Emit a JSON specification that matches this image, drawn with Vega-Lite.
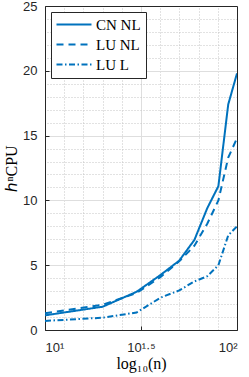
{
  "$schema": "https://vega.github.io/schema/vega-lite/v6.json",
  "autosize": "none",
  "padding": {"left": 45, "top": 6, "right": 12, "bottom": 47},
  "width": 192,
  "height": 324,
  "background": "white",
  "config": {
    "view": {"stroke": null},
    "font": "Liberation Sans",
    "axis": {
      "labelFont": "Liberation Sans",
      "labelFontSize": 13,
      "labelColor": "#262626",
      "domainColor": "#262626",
      "tickColor": "#262626",
      "titleFont": "Liberation Serif",
      "titleFontSize": 16,
      "titleFontWeight": "normal",
      "titleColor": "#000000"
    }
  },
  "data": {
    "values": [
      {"n": 10, "series": "CN NL", "h": 1.13},
      {"n": 20, "series": "CN NL", "h": 1.8},
      {"n": 30, "series": "CN NL", "h": 2.95},
      {"n": 40, "series": "CN NL", "h": 4.25},
      {"n": 50, "series": "CN NL", "h": 5.35},
      {"n": 60, "series": "CN NL", "h": 6.95},
      {"n": 70, "series": "CN NL", "h": 9.4},
      {"n": 80, "series": "CN NL", "h": 11.1},
      {"n": 90, "series": "CN NL", "h": 17.4},
      {"n": 100, "series": "CN NL", "h": 19.8},
      {"n": 10, "series": "LU NL", "h": 1.3},
      {"n": 20, "series": "LU NL", "h": 1.95},
      {"n": 30, "series": "LU NL", "h": 2.85},
      {"n": 40, "series": "LU NL", "h": 4.1},
      {"n": 50, "series": "LU NL", "h": 5.3},
      {"n": 60, "series": "LU NL", "h": 6.5},
      {"n": 70, "series": "LU NL", "h": 8.2},
      {"n": 80, "series": "LU NL", "h": 10.0},
      {"n": 90, "series": "LU NL", "h": 13.3},
      {"n": 100, "series": "LU NL", "h": 14.8},
      {"n": 10, "series": "LU L", "h": 0.7},
      {"n": 20, "series": "LU L", "h": 0.95},
      {"n": 30, "series": "LU L", "h": 1.35},
      {"n": 40, "series": "LU L", "h": 2.5},
      {"n": 50, "series": "LU L", "h": 3.05},
      {"n": 60, "series": "LU L", "h": 3.75},
      {"n": 70, "series": "LU L", "h": 4.15},
      {"n": 80, "series": "LU L", "h": 5.0},
      {"n": 90, "series": "LU L", "h": 7.3},
      {"n": 100, "series": "LU L", "h": 8.0}
    ]
  },
  "layer": [
    {
      "mark": {"type": "point", "opacity": 0},
      "encoding": {
        "x": {
          "field": "n", "type": "quantitative",
          "scale": {"type": "log", "domain": [10, 100]},
          "axis": {
            "orient": "top",
            "values": [12.589, 15.849, 19.953, 25.119, 39.811, 50.119, 63.096, 79.433],
            "labels": false, "ticks": false, "title": null,
            "grid": true, "gridDash": [1, 2], "gridColor": "#c4c4c4",
            "domainColor": "#262626"
          }
        },
        "y": {
          "field": "h", "type": "quantitative",
          "scale": {"domain": [0, 25]},
          "axis": {
            "orient": "right",
            "values": [1, 2, 3, 4, 6, 7, 8, 9, 11, 12, 13, 14, 16, 17, 18, 19, 21, 22, 23, 24],
            "labels": false, "ticks": false, "title": null,
            "grid": true, "gridDash": [1, 2], "gridColor": "#c4c4c4",
            "domainColor": "#262626"
          }
        }
      }
    },
    {
      "mark": {"type": "line", "strokeWidth": 2, "color": "#0072BD", "clip": true},
      "encoding": {
        "x": {
          "field": "n", "type": "quantitative",
          "scale": {"type": "log", "domain": [10, 100]},
          "axis": {
            "values": [10, 31.6228, 100],
            "labelExpr": "datum.value < 20 ? '10¹' : (datum.value > 50 ? '10²' : '10¹·⁵')",
            "grid": true, "gridColor": "#dedede",
            "tickSize": -4, "labelPadding": 15,
            "title": "log₁₀(n)", "titlePadding": 1
          }
        },
        "y": {
          "field": "h", "type": "quantitative",
          "scale": {"domain": [0, 25]},
          "axis": {
            "values": [0, 5, 10, 15, 20, 25],
            "grid": true, "gridColor": "#dedede",
            "tickSize": -4, "labelPadding": 12,
            "title": "ℎⁿCPU", "titlePadding": 3
          }
        },
        "strokeDash": {
          "field": "series", "type": "nominal",
          "scale": {"domain": ["CN NL", "LU NL", "LU L"], "range": [[1, 0], [7, 5], [6, 2.5, 1.5, 2.5]]},
          "legend": {
            "orient": "top-left", "offset": 6, "title": null,
            "strokeColor": "#262626", "fillColor": "white", "padding": 5,
            "labelFont": "Liberation Serif", "labelFontSize": 15, "labelColor": "#000000",
            "symbolType": "M-1.2,0H4.8", "symbolSize": 136, "symbolStrokeWidth": 2,
            "symbolStrokeColor": "#0072BD", "rowPadding": 4, "labelOffset": 25,
            "encoding": {"legend": {"update": {"strokeWidth": {"value": 1}, "stroke": {"value": "#262626"}, "fill": {"value": "white"}}}}
          }
        }
      }
    }
  ],
  "resolve": {"axis": {"x": "independent", "y": "independent"}}
}
